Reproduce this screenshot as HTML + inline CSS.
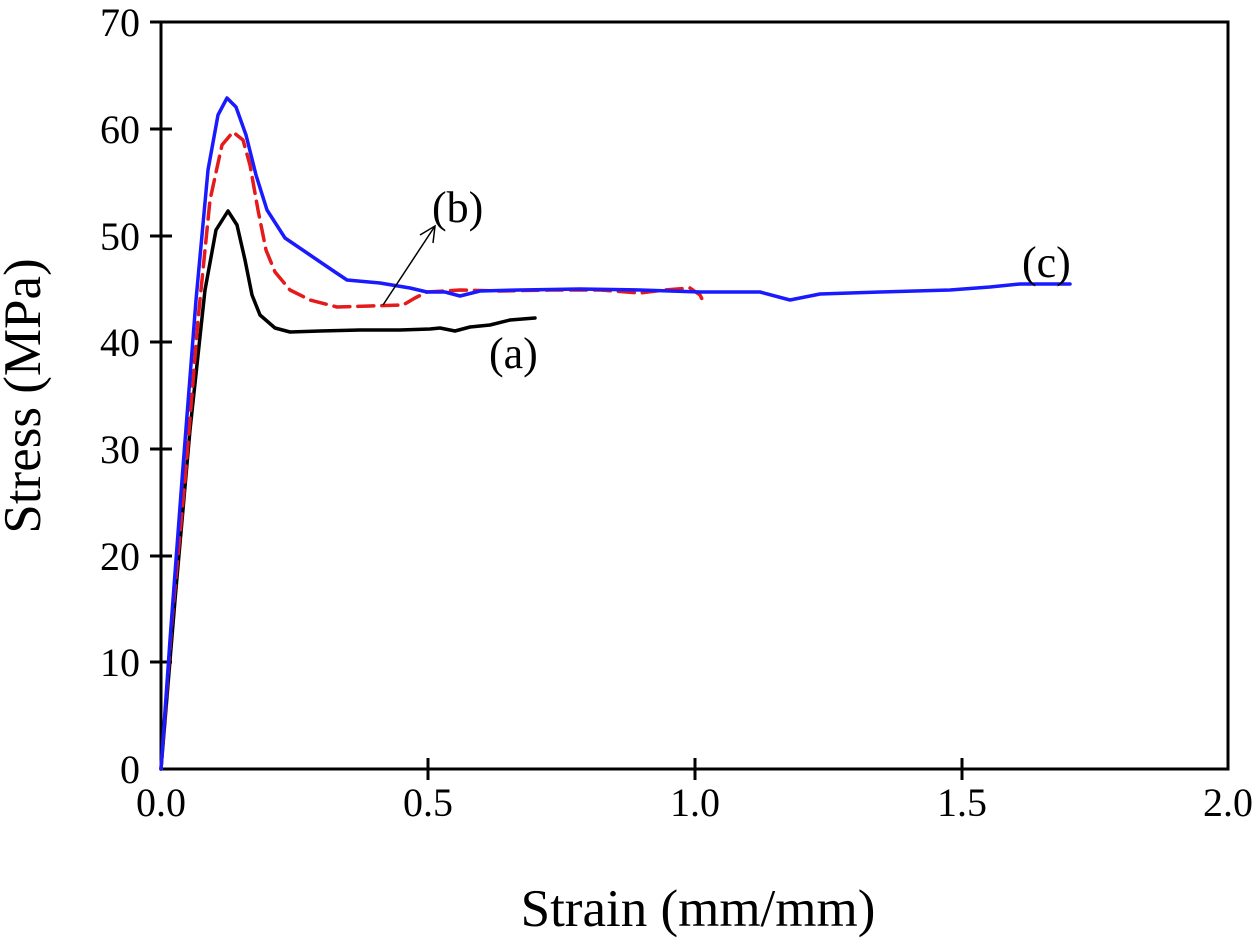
<!DOCTYPE html>
<html><head><style>body{margin:0;background:#fff}svg{display:block}text{font-family:"Liberation Serif",serif;fill:#000}</style></head>
<body>
<svg width="1260" height="950" viewBox="0 0 1260 950">
<g stroke="#000" stroke-width="3" fill="none">
<rect x="161" y="22" width="1067" height="747"/>
<line x1="150" y1="22" x2="172" y2="22"/>
<line x1="150" y1="129" x2="172" y2="129"/>
<line x1="150" y1="236" x2="172" y2="236"/>
<line x1="150" y1="342" x2="172" y2="342"/>
<line x1="150" y1="449" x2="172" y2="449"/>
<line x1="150" y1="556" x2="172" y2="556"/>
<line x1="150" y1="662" x2="172" y2="662"/>
<line x1="428" y1="758" x2="428" y2="780"/>
<line x1="695" y1="758" x2="695" y2="780"/>
<line x1="962" y1="758" x2="962" y2="780"/>
</g>
<g font-size="40" text-anchor="end">
<text x="140" y="36">70</text><text x="140" y="143">60</text><text x="140" y="250">50</text>
<text x="140" y="356">40</text><text x="140" y="463">30</text><text x="140" y="570">20</text>
<text x="140" y="676">10</text><text x="140" y="783">0</text>
</g>
<g font-size="40" text-anchor="middle">
<text x="161" y="816">0.0</text><text x="428" y="816">0.5</text><text x="695" y="816">1.0</text>
<text x="962" y="816">1.5</text><text x="1228" y="816">2.0</text>
<text x="698" y="926" font-size="53">Strain (mm/mm)</text>
</g>
<text font-size="53" text-anchor="middle" transform="translate(40,396) rotate(-90)">Stress (MPa)</text>
<g fill="none" stroke-width="3.5" stroke-linejoin="round" stroke-linecap="round">
<path stroke="#000" d="M161,769 L175,600 L190,430 L205,290 L216,230 L228,211 L237,225 L245,260 L252,295 L260,315 L275,328 L290,332 L320,331 L360,330 L400,330 L430,329 L440,328 L455,331 L470,327 L490,325 L510,320 L535,318"/>
<path stroke="#e41a1c" stroke-dasharray="16,8" d="M161,769 L172,620 L185,480 L198,320 L210,200 L222,145 L233,132 L243,140 L250,165 L258,210 L266,250 L275,272 L290,290 L310,300 L337,307 L370,306 L403,305 L415,298 L427,292 L460,290 L500,291 L550,290 L600,290 L640,293 L665,290 L690,288 L700,295 L705,305"/>
<path stroke="#1a1aff" d="M161,769 L170,640 L182,480 L196,300 L208,170 L218,115 L227,98 L236,107 L246,135 L256,175 L267,210 L285,238 L310,255 L335,272 L347,280 L380,283 L410,288 L427,292 L445,292 L460,296 L480,291 L520,290 L580,289 L640,290 L700,292 L760,292 L790,300 L820,294 L880,292 L950,290 L990,287 L1020,284 L1070,284"/>
</g>
<g stroke="#000" stroke-width="1.5" fill="none">
<line x1="383" y1="305" x2="435" y2="226"/>
<polyline points="420,235 435,226 433,243"/>
</g>
<g font-size="44">
<text x="489" y="368">(a)</text>
<text x="432" y="222">(b)</text>
<text x="1022" y="277">(c)</text>
</g>
</svg>
</body></html>
